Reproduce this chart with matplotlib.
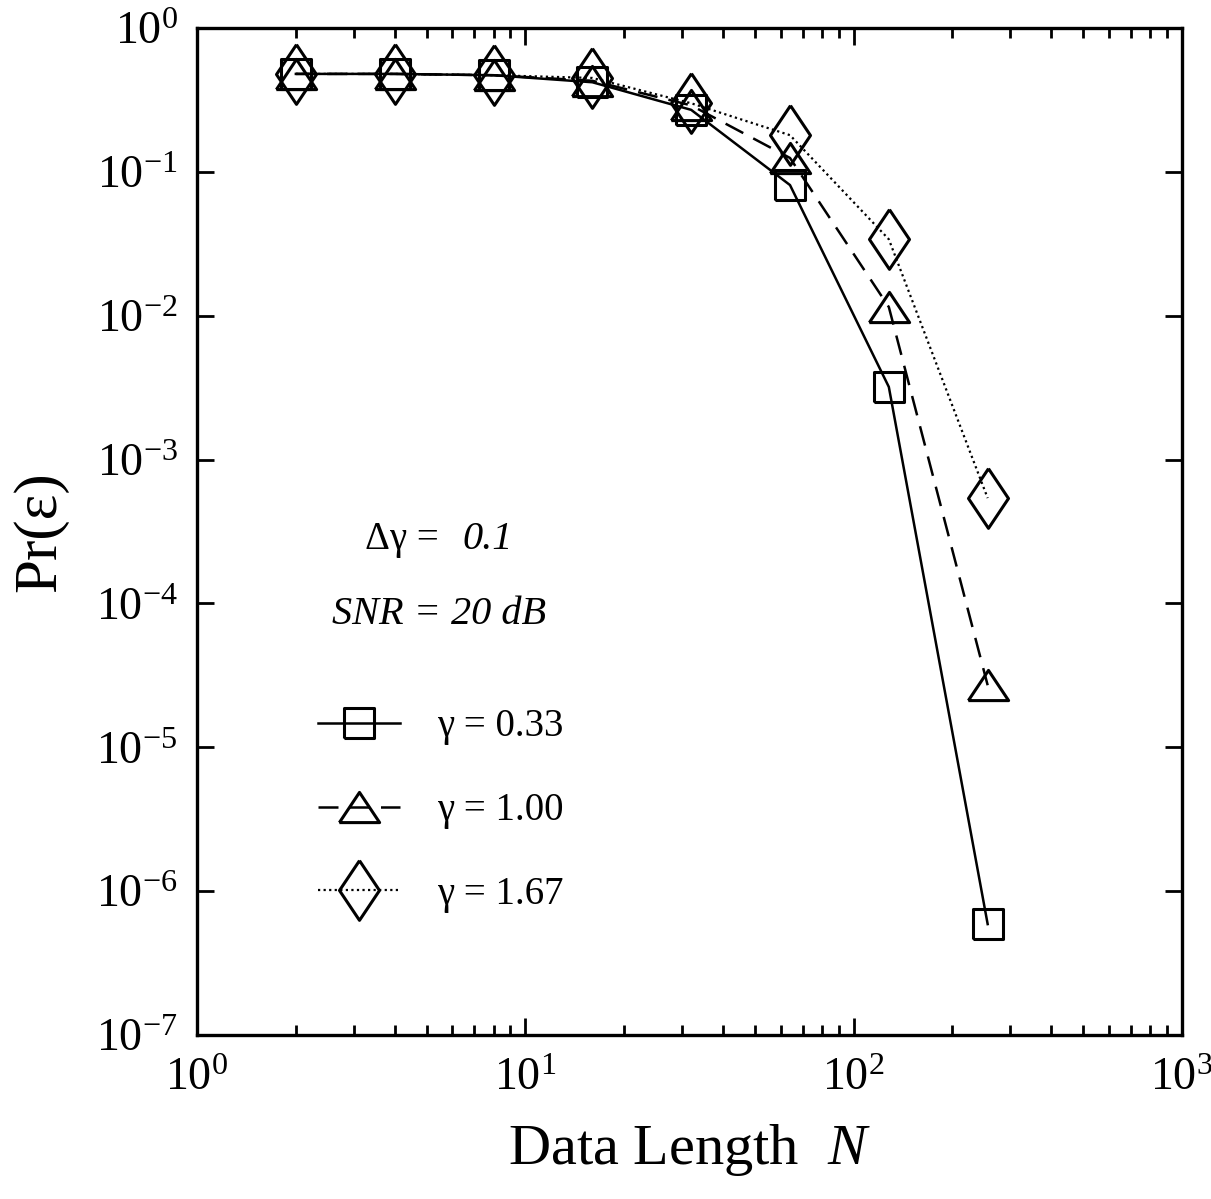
import matplotlib
matplotlib.use("Agg")
import matplotlib.pyplot as plt
from matplotlib.ticker import LogLocator, NullLocator, NullFormatter

plt.rcParams["font.family"] = ["Liberation Serif", "DejaVu Serif"]
plt.rcParams["mathtext.fontset"] = "custom"
plt.rcParams["mathtext.rm"] = "Liberation Serif"
plt.rcParams["mathtext.it"] = "Liberation Serif:italic"

# data
N = [2, 4, 8, 16, 32, 64, 128, 256]
pe_033 = [0.48, 0.48, 0.47, 0.42, 0.27, 0.081, 0.0032, 5.9e-7]
pe_100 = [0.48, 0.48, 0.47, 0.43, 0.29, 0.125, 0.0115, 2.7e-5]
pe_167 = [0.48, 0.48, 0.47, 0.45, 0.30, 0.18, 0.034, 5.4e-4]
labels = ["γ = 0.33", "γ = 1.00", "γ = 1.67"]
xticks = [1, 10, 100, 1000]
yticks = [1e-7, 1e-6, 1e-5, 1e-4, 1e-3, 1e-2, 1e-1, 1]

sq = [(-1, -1), (1, -1), (1, 1), (-1, 1), (-1, -1)]
tri = [(-1, -0.75), (1, -0.75), (0, 0.75), (-1, -0.75)]
dia = [(0, 1), (0.67, 0), (0, -1), (-0.67, 0), (0, 1)]

fig = plt.figure(figsize=(12.11, 11.99), dpi=100)
ax = fig.add_axes([0.1627, 0.1368, 0.8133, 0.8398])

ax.plot(N, pe_033, color="black", lw=1.8, ls="-", marker=sq, ms=21,
        mfc="none", mec="black", mew=2.2, label=labels[0])
ax.plot(N, pe_100, color="black", lw=1.8, ls=(0, (8, 4.5)), marker=tri, ms=29,
        mfc="none", mec="black", mew=2.2, label=labels[1])
ax.plot(N, pe_167, color="black", lw=1.6, ls=(0, (1, 1.5)), marker=dia, ms=43,
        mfc="none", mec="black", mew=2.2, label=labels[2])

ax.set_xscale("log")
ax.set_yscale("log")
ax.set_xlim(1, 1000)
ax.set_ylim(1e-7, 1)

ax.set_xticks(xticks)
ax.set_yticks(yticks)
ax.xaxis.set_minor_locator(LogLocator(base=10, subs=range(2, 10), numticks=10))
ax.xaxis.set_minor_formatter(NullFormatter())
ax.yaxis.set_minor_locator(NullLocator())

ax.tick_params(which="both", direction="in", top=True, right=True,
               labelsize=33, width=2)
ax.tick_params(which="major", length=12)
ax.tick_params(which="minor", length=7)
ax.tick_params(axis="x", pad=16)
ax.tick_params(axis="y", pad=14)
for s in ax.spines.values():
    s.set_linewidth(2.4)

ax.set_xlabel("Data Length  $\\it{N}$", fontsize=42, labelpad=16)
ax.set_ylabel("Pr(ε)", fontsize=44, labelpad=20)

ax.text(0.1706, 0.492, "Δγ =", transform=ax.transAxes, fontsize=28,
        ha="left", va="center")
ax.text(0.269, 0.492, "0.1", transform=ax.transAxes, fontsize=29,
        style="italic", ha="left", va="center")
ax.text(0.246, 0.418, "SNR = 20 dB", transform=ax.transAxes, fontsize=29,
        style="italic", ha="center", va="center")

leg = ax.legend(loc="upper left", bbox_to_anchor=(0.0873, 0.359), frameon=False,
                fontsize=28, numpoints=1, handlelength=2.1, labelspacing=1.2,
                handletextpad=0.95)

fig.savefig("out.png", dpi=100)
